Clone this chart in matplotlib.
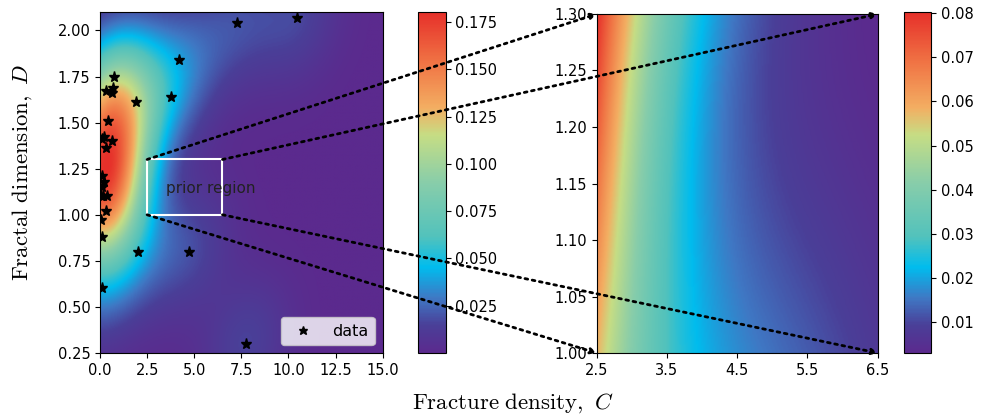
import numpy as np
import matplotlib
matplotlib.use("Agg")
import matplotlib.pyplot as plt
from matplotlib.colors import LinearSegmentedColormap
from matplotlib.patches import Rectangle, ConnectionPatch

plt.rcParams["mathtext.fontset"] = "cm"
plt.rcParams["font.size"] = 10.5

# punkty pomiarowe
gestosc = np.array([7.26, 10.45, 4.21, 3.77, 1.90, 0.74, 0.32, 0.67, 0.62, 0.41,
                    0.23, 0.62, 0.30, 0.12, 0.09, 0.23, 0.18, 0.35, 0.32, 0.05,
                    0.09, 2.00, 4.75, 0.09, 7.74, 0.05, 0.09])
wymiar = np.array([2.04, 2.07, 1.84, 1.64, 1.61, 1.75, 1.67, 1.69, 1.66, 1.51,
                   1.42, 1.40, 1.36, 1.41, 1.21, 1.18, 1.10, 1.10, 1.02, 0.97,
                   0.88, 0.80, 0.80, 0.60, 0.30, 1.10, 1.15])

# obszar priora
prior_c = (2.5, 6.5)
prior_d = (1.0, 1.3)

bw_lewy = 1.0   # mnożnik szerokości jądra (reguła Scotta)
bw_prawy = 1.0

kolory = [(0.00, "#5b2a8e"), (0.08, "#4a3f98"), (0.16, "#3f78c4"), (0.25, "#00bcee"),
          (0.34, "#52c2bc"), (0.50, "#88cdaa"), (0.64, "#c6dd84"), (0.72, "#f3ae62"),
          (0.85, "#f07545"), (1.00, "#e6302a")]
cmap = LinearSegmentedColormap.from_list("tecza", kolory)


def kde(x, y, gx, gy, bw):
    dane = np.vstack([x, y])
    n = dane.shape[1]
    cov = np.cov(dane) * (bw * n ** (-1 / 6)) ** 2
    inv = np.linalg.inv(cov)
    norm = 1.0 / (2 * np.pi * np.sqrt(np.linalg.det(cov))) / n
    dx = gx[..., None] - x
    dy = gy[..., None] - y
    q = inv[0, 0] * dx ** 2 + 2 * inv[0, 1] * dx * dy + inv[1, 1] * dy ** 2
    return norm * np.exp(-0.5 * q).sum(-1)


gx, gy = np.meshgrid(np.linspace(0, 15, 300), np.linspace(0.25, 2.1, 300))
z1 = kde(gestosc, wymiar, gx, gy, bw_lewy)
hx, hy = np.meshgrid(np.linspace(*prior_c, 200), np.linspace(*prior_d, 200))
z2 = kde(gestosc, wymiar, hx, hy, bw_prawy)

fig = plt.figure(figsize=(9.84, 4.19), dpi=100)
ax1 = fig.add_axes([0.1016, 0.1575, 0.2873, 0.8138])
cax1 = fig.add_axes([0.4251, 0.1575, 0.0279, 0.8138])
ax2 = fig.add_axes([0.6064, 0.1575, 0.2856, 0.8091])
cax2 = fig.add_axes([0.9187, 0.1575, 0.0274, 0.8138])

im1 = ax1.imshow(z1, extent=[0, 15, 0.25, 2.1], origin="lower", aspect="auto",
                 cmap=cmap, interpolation="bilinear")
ax1.plot(gestosc, wymiar, "*", color="k", ms=8, ls="none", label="data")
ax1.add_patch(Rectangle((prior_c[0], prior_d[0]), prior_c[1] - prior_c[0],
                        prior_d[1] - prior_d[0], fill=False, ec="white", lw=1.5))
ax1.text(3.5, 1.12, "prior region", fontsize=11, color="#222222")
ax1.set_xlim(0, 15)
ax1.set_ylim(0.25, 2.1)
ax1.set_xticks(np.arange(0, 15.1, 2.5))
ax1.set_yticks(np.arange(0.25, 2.01, 0.25))
ax1.set_ylabel(r"$\mathrm{Fractal\ dimension,}\ D$", fontsize=16.5)
ax1.yaxis.set_label_coords(-0.235, 0.53)
ax1.legend(loc="lower right", fontsize=11.5, markerscale=0.8)
fig.colorbar(im1, cax=cax1)

im2 = ax2.imshow(z2, extent=[*prior_c, *prior_d], origin="lower", aspect="auto",
                 cmap=cmap, interpolation="bilinear")
ax2.set_xlim(*prior_c)
ax2.set_ylim(*prior_d)
ax2.set_xticks(np.arange(2.5, 6.6, 1.0))
ax2.set_yticks(np.arange(1.0, 1.31, 0.05))
fig.colorbar(im2, cax=cax2)

# linie łączące prostokąt z powiększeniem
for xa, ya in [(2.5, 1.3), (6.5, 1.3), (2.5, 1.0), (6.5, 1.0)]:
    con = ConnectionPatch(xyA=(xa, ya), coordsA=ax1.transData, xyB=(xa, ya),
                          coordsB=ax2.transData, arrowstyle="-|>", ls=":", lw=2,
                          color="k", mutation_scale=8)
    fig.add_artist(con)

fig.text(0.521, 0.037, r"$\mathrm{Fracture\ density,}\ C$", ha="center", va="center",
         fontsize=16.5)

fig.savefig("out.png", dpi=100)
